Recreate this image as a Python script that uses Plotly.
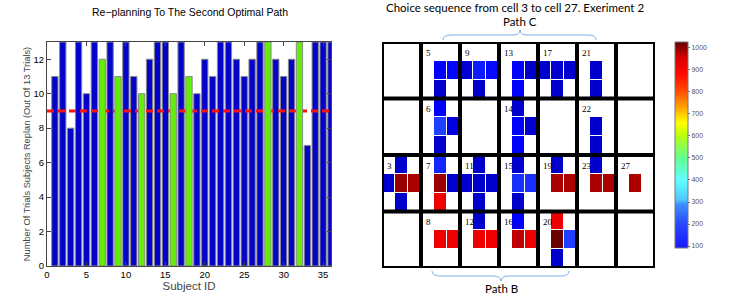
import plotly.graph_objects as go

W, H = 736, 299

# ---------------- data: left bar chart ----------------
subject_ids = list(range(1, 37))
replan_counts = [11, 13, 8, 13, 10, 13, 12, 13, 11, 13, 11, 10, 12, 13, 13, 10, 13, 11,
                 10, 12, 11, 13, 13, 12, 11, 12, 13, 13, 12, 11, 12, 13, 7, 13, 13, 13]
green_subjects = [7, 9, 12, 16, 18, 28, 32]
threshold = 9
x_ticks = [0, 5, 10, 15, 20, 25, 30, 35]
y_ticks = [0, 2, 4, 6, 8, 10, 12]

# ---------------- data: right heat grid ----------------
cell_ids = [3, 5, 6, 7, 8, 9, 11, 12, 13, 14, 15, 16, 17, 19, 20, 21, 22, 23, 27]
up_vals = [100, None, 160, 200, None, None, 100, 100, None, 100, 100, 160, None, 100, 880, None, None, 100, None]
left_vals = [100, None, None, None, None, 110, 100, None, None, None, None, None, 105, None, None, None, None, None, None]
center_vals = [1010, 160, 230, 1010, 880, 190, 100, 880, 160, 160, 210, 950, 105, 990, 1050, 100, 100, 990, 990]
right_vals = [990, 165, 130, 100, 880, 170, 100, 880, 100, 110, 210, 880, 105, 990, 230, None, None, 990, None]
down_vals = [100, 100, 100, 880, None, 100, 100, None, 160, 160, 100, None, 100, None, 100, 100, 100, None, None]
cbar_ticks = [100, 200, 300, 400, 500, 600, 700, 800, 900, 1000]

N_COLS, N_ROWS = 7, 4


def px(x):
    return x / W


def py(y):
    return 1 - y / H


fig = go.Figure()

# ---------------- left chart ----------------
blue_x = [s for s in subject_ids if s not in green_subjects]
blue_y = [replan_counts[s - 1] for s in blue_x]
green_y = [replan_counts[s - 1] for s in green_subjects]

fig.add_trace(go.Bar(x=blue_x, y=blue_y, width=0.8, marker=dict(color="#0303C9", line=dict(color="#8a8a8a", width=1)),
                     xaxis="x", yaxis="y", showlegend=False))
fig.add_trace(go.Scatter(x=[0, 36], y=[threshold, threshold], mode="lines",
                         line=dict(color="#FF1010", width=3, dash="7px,4px"),
                         xaxis="x", yaxis="y", showlegend=False))
fig.add_trace(go.Bar(x=green_subjects, y=green_y, width=0.8, marker=dict(color="#62EE08", line=dict(color="#8a8a8a", width=1)),
                     xaxis="x3", yaxis="y3", showlegend=False))

# ---------------- right heat grid ----------------
z = [[None] * (N_COLS * 3) for _ in range(N_ROWS * 3)]
offsets = [(0, 1, up_vals), (1, 0, left_vals), (1, 1, center_vals), (1, 2, right_vals), (2, 1, down_vals)]
for i, cid in enumerate(cell_ids):
    col, row = (cid - 1) // N_ROWS, (cid - 1) % N_ROWS
    for dr, dc, arr in offsets:
        if arr[i] is not None:
            z[row * 3 + dr][col * 3 + dc] = arr[i]

heat_scale = [
    [0.00, "#00009E"], [0.04, "#0000CC"], [0.07, "#0000E0"], [0.10, "#0000FF"],
    [0.15, "#1830FF"], [0.17, "#2040FF"], [0.34, "#40FFFF"], [0.59, "#FFFF00"],
    [0.74, "#FF6000"], [0.82, "#EE0000"], [0.89, "#C00000"], [0.93, "#AA0000"],
    [0.95, "#990000"], [1.00, "#600000"],
]
fig.add_trace(go.Heatmap(
    z=z, x=[c + 0.5 for c in range(N_COLS * 3)], y=[r + 0.5 for r in range(N_ROWS * 3)],
    colorscale=heat_scale, zmin=60, zmax=1060, showscale=False, xgap=1, ygap=1,
    xaxis="x2", yaxis="y2", hoverongaps=False))

cmin, cmax = 91, 1027
bar_scale_pts = [(91, "#1A1AFF"), (200, "#2848FF"), (290, "#3C90FF"), (310, "#50C8FF"), (400, "#60FFFF"),
                 (500, "#60FF90"), (600, "#B8FF10"), (660, "#FFFF00"), (720, "#FFB000"), (800, "#FF5000"),
                 (880, "#FF0A00"), (950, "#DD0000"), (1027, "#660000")]
bar_scale = [[(v - cmin) / (cmax - cmin), c] for v, c in bar_scale_pts]
fig.add_trace(go.Scatter(
    x=[-5], y=[-5], mode="markers", xaxis="x2", yaxis="y2", showlegend=False, hoverinfo="skip",
    marker=dict(color=[500], colorscale=bar_scale, cmin=cmin, cmax=cmax, showscale=True, size=1,
                colorbar=dict(x=px(675), xanchor="left", thickness=13, thicknessmode="pixels",
                              len=(248 - 42) / H, lenmode="fraction", y=py(145), yanchor="middle",
                              tickvals=cbar_ticks, ticks="outside", ticklen=2, tickcolor="#777",
                              tickfont=dict(family="Liberation Sans", size=7, color="#555"),
                              outlinewidth=1, outlinecolor="#777", xpad=0, ypad=0))))

shapes = []
# thick cell borders
for c in range(N_COLS + 1):
    shapes.append(dict(type="line", xref="x2", yref="y2", x0=c * 3, x1=c * 3, y0=0, y1=N_ROWS * 3,
                       line=dict(color="black", width=4), layer="above"))
for r in range(N_ROWS + 1):
    shapes.append(dict(type="line", xref="x2", yref="y2", x0=0, x1=N_COLS * 3, y0=r * 3, y1=r * 3,
                       line=dict(color="black", width=4), layer="above"))


def brace(x0, x1, xm, y_end, y_line, y_tip):
    r = 8
    pts = (f"M {px(x0)},{py(y_end)} Q {px(x0)},{py(y_line)} {px(x0 + r)},{py(y_line)} "
           f"L {px(xm - r)},{py(y_line)} Q {px(xm)},{py(y_line)} {px(xm)},{py(y_tip)} "
           f"Q {px(xm)},{py(y_line)} {px(xm + r)},{py(y_line)} "
           f"L {px(x1 - r)},{py(y_line)} Q {px(x1)},{py(y_line)} {px(x1)},{py(y_end)}")
    return dict(type="path", xref="paper", yref="paper", path=pts, line=dict(color="#7FAEE8", width=1))


shapes.append(brace(443, 596, 520, 40, 35, 30))
shapes.append(brace(432, 569, 501, 271, 276, 281))

annotations = []
for cid in cell_ids:
    col, row = (cid - 1) // N_ROWS, (cid - 1) % N_ROWS
    annotations.append(dict(x=col * 3 + 0.2, y=row * 3 + 0.2, xref="x2", yref="y2", text=str(cid),
                            showarrow=False, xanchor="left", yanchor="top",
                            font=dict(family="Liberation Serif", size=9, color="black")))

annotations += [
    dict(x=px(190), y=py(12), xref="paper", yref="paper", text="Re\u2212planning To The Second Optimal Path",
         showarrow=False, xanchor="center", yanchor="middle",
         font=dict(family="Liberation Sans", size=10.5, color="black")),
    dict(x=px(515), y=py(8), xref="paper", yref="paper", text="Choice sequence from cell 3 to cell 27. Exeriment 2",
         showarrow=False, xanchor="center", yanchor="middle", font=dict(family="Lato", size=11.5, color="black")),
    dict(x=px(520), y=py(22), xref="paper", yref="paper", text="Path C",
         showarrow=False, xanchor="center", yanchor="middle", font=dict(family="Lato", size=11.5, color="black")),
    dict(x=px(501), y=py(288), xref="paper", yref="paper", text="Path B",
         showarrow=False, xanchor="center", yanchor="middle", font=dict(family="Lato", size=11.5, color="black")),
]

axis_common = dict(showgrid=False, zeroline=False, showline=True, linecolor="#444", linewidth=1,
                   mirror="ticks", ticks="inside", ticklen=4, tickcolor="#444",
                   tickfont=dict(family="Liberation Sans", size=9.5, color="black"), automargin=False)

fig.update_layout(
    width=W, height=H, margin=dict(l=0, r=0, t=0, b=0), template="none",
    paper_bgcolor="white", plot_bgcolor="white", barmode="overlay", showlegend=False,
    font=dict(family="Liberation Sans"),
    xaxis=dict(domain=[px(47), px(331)], range=[0, 36], tickvals=x_ticks, anchor="y",
               title=dict(text="Subject ID", font=dict(size=11.5), standoff=2), **axis_common),
    yaxis=dict(domain=[py(266), py(42)], range=[0, 13], tickvals=y_ticks, anchor="x",
               title=dict(text="Number Of Trials Subjects Replan (Out Of 13 Trials)", font=dict(size=9.3), standoff=1),
               **axis_common),
    xaxis3=dict(overlaying="x", range=[0, 36], visible=False, anchor="y3"),
    yaxis3=dict(overlaying="y", range=[0, 13], visible=False, anchor="x3"),
    xaxis2=dict(domain=[px(382), px(655)], range=[0, N_COLS * 3], visible=False, anchor="y2", automargin=False),
    yaxis2=dict(domain=[py(268), py(42)], range=[N_ROWS * 3, 0], visible=False, anchor="x2", automargin=False),
    shapes=shapes, annotations=annotations,
)

fig.write_html("out.html", config={"displayModeBar": False},
               post_script="document.body.style.margin='0px';")
